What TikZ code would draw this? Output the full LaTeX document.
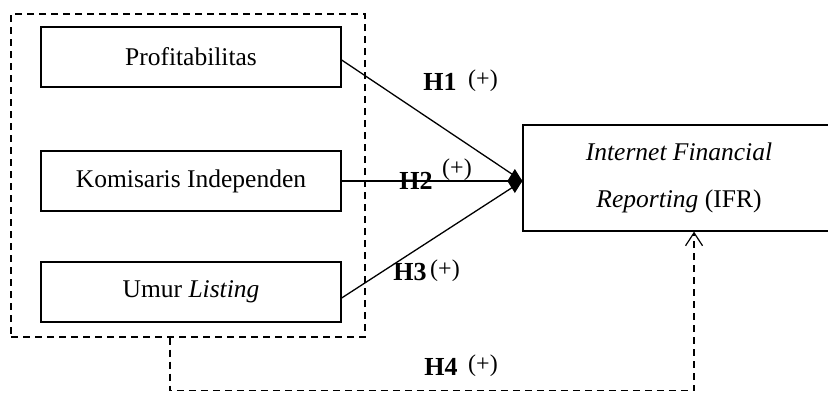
\documentclass[tikz,border=0pt]{standalone}
\usepackage{fontspec}
\setmainfont{Liberation Serif}
\usetikzlibrary{arrows.meta,calc}
\begin{document}
\begin{tikzpicture}[x=1pt,y=-1pt,
  box/.style={draw,line width=1.3pt,minimum width=300pt,minimum height=60pt,inner sep=0pt,
    font=\fontsize{25.5}{30}\selectfont},
  grpbox/.style={draw,line width=1.3pt,dash pattern=on 7pt off 5pt,minimum width=354pt,minimum height=323pt,inner sep=0pt},
  link/.style={line width=1.3pt},
  dlink/.style={line width=1.3pt,dash pattern=on 7pt off 5pt},
  hlab/.style={font=\fontsize{26}{30}\selectfont\bfseries,inner sep=0pt},
  plab/.style={font=\fontsize{24}{28}\selectfont,inner sep=0pt}]
\useasboundingbox (0,0) rectangle (828,392);
\node[grpbox] (grp) at (188,175.5) {};
\node[box] (prof) at (191,57) {Profitabilitas};
\node[box] (kom) at (191,181) {Komisaris Independen};
\node[box] (umur) at (191,292) {Umur \textit{Listing}};
\node[box,minimum width=312pt,minimum height=106pt,align=center,
  font=\fontsize{25.5}{47}\selectfont] (ifr) at (679,178)
  {\textit{Internet Financial}\\\textit{Reporting} (IFR)};
\coordinate (tip) at ($(ifr.west)+(0,3)$);
\draw[link] ($(prof.east)+(0,3)$) -- (tip);
\draw[link] ($(umur.east)+(0,6)$) -- (tip);
\draw[link,-{Diamond[length=15pt,width=24pt]}] (kom.east) -- (tip);
\coordinate (h4a) at ($(grp.south west)!0.449!(grp.south east)$);
\coordinate (h4b) at ($(ifr.south west)!0.548!(ifr.south east)$);
\draw[dlink,-{Straight Barb[length=13pt,width=17pt,line width=1.2pt]}] (h4a) -- ++(0,53) -| (h4b);
\node[hlab] (h1) at (440,82) {H1};
\node[plab] (p1) at (483,81) {(+)};
\node[hlab] (h2) at (416,181) {H2};
\node[plab] (p2) at (457,170) {(+)};
\node[hlab] (h3) at (410,272) {H3};
\node[plab] (p3) at (445,271) {(+)};
\node[hlab] (h4) at (441,367) {H4};
\node[plab] (p4) at (483,366) {(+)};
\end{tikzpicture}
\end{document}
